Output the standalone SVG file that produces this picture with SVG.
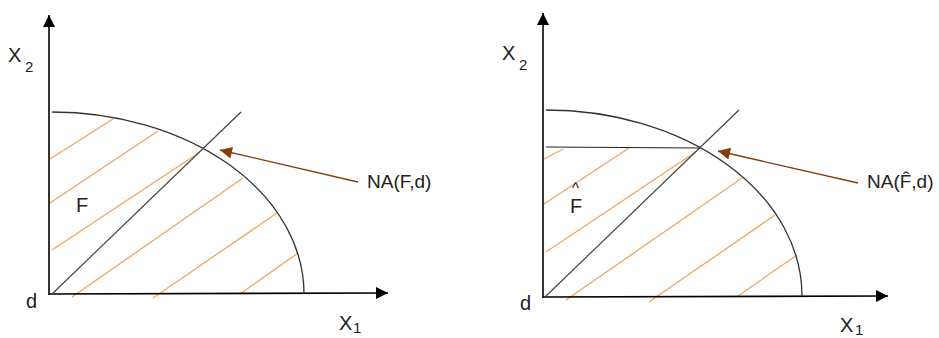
<svg xmlns="http://www.w3.org/2000/svg" width="939" height="338" viewBox="0 0 939 338">
<style>
.axis{stroke:#000;stroke-width:1.6;fill:none}
.curve{stroke:#333;stroke-width:1.3;fill:none}
.diag{stroke:#444;stroke-width:1.2;fill:none}
.hatch{stroke:#F4A460;stroke-width:1.3;fill:none}
.lead{stroke:#843C0C;stroke-width:1.3;fill:none}
text{font-family:"Liberation Sans",Arial,sans-serif;fill:#222}
.lbl{font-size:20px}
.sub{font-size:15px}
.na{font-size:19px}
</style>
<defs>
<marker id="ah" viewBox="0 0 10 10" refX="10" refY="5" markerWidth="13" markerHeight="12" markerUnits="userSpaceOnUse" orient="auto"><path d="M0,0 L10,5 L0,10 z" fill="#000"/></marker>
<marker id="bh" viewBox="0 0 10 10" refX="10" refY="5" markerWidth="13" markerHeight="12" markerUnits="userSpaceOnUse" orient="auto"><path d="M0,0 L10,5 L0,10 z" fill="#843C0C"/></marker>
</defs>

<g id="left-panel">
  <g id="left-hatch">
    <line class="hatch" x1="50" y1="159" x2="113" y2="119"/>
    <line class="hatch" x1="50" y1="203" x2="158" y2="131"/>
    <line class="hatch" x1="52" y1="250" x2="200" y2="152"/>
    <line class="hatch" x1="72" y1="297" x2="243" y2="178"/>
    <line class="hatch" x1="153" y1="298" x2="277" y2="213"/>
    <line class="hatch" x1="240" y1="294" x2="298" y2="253"/>
  </g>
  <g id="left-axes">
    <line class="axis" x1="49" y1="295" x2="49" y2="15" marker-end="url(#ah)"/>
    <line class="axis" x1="49" y1="294" x2="388" y2="293" marker-end="url(#ah)"/>
  </g>
  <path id="left-frontier" class="curve" d="M52,112 A252,182 0 0 1 304,294"/>
  <line id="left-diagonal" class="diag" x1="52" y1="294" x2="241" y2="112"/>
  <g id="left-labels">
    <text class="lbl" x="8" y="62">X</text>
    <text class="sub" x="25" y="72">2</text>
    <text class="lbl" x="26" y="308">d</text>
    <text class="lbl" x="339" y="330">X</text>
    <text class="sub" x="353" y="333">1</text>
    <text class="lbl" x="76" y="212">F</text>
  </g>
  <g id="left-na">
    <line class="lead" x1="358" y1="182" x2="220" y2="150" marker-end="url(#bh)"/>
    <text class="na" x="367" y="188">NA(F,d)</text>
  </g>
</g>

<g id="right-panel">
  <g id="right-hatch">
    <line class="hatch" x1="544" y1="159" x2="563" y2="149"/>
    <line class="hatch" x1="544" y1="204" x2="629" y2="148"/>
    <line class="hatch" x1="546" y1="252" x2="697" y2="151"/>
    <line class="hatch" x1="566" y1="300" x2="742" y2="178"/>
    <line class="hatch" x1="649" y1="302" x2="775" y2="215"/>
    <line class="hatch" x1="738" y1="296" x2="797" y2="255"/>
  </g>
  <g id="right-axes">
    <line class="axis" x1="543" y1="298" x2="543" y2="13" marker-end="url(#ah)"/>
    <line class="axis" x1="543" y1="297" x2="888" y2="296" marker-end="url(#ah)"/>
  </g>
  <path id="right-frontier" class="curve" d="M546,110 A256,186 0 0 1 802,296"/>
  <line id="right-diagonal" class="diag" x1="546" y1="296" x2="739" y2="110"/>
  <line id="right-cut" class="diag" x1="546" y1="147" x2="700" y2="148" style="stroke:#222"/>
  <g id="right-labels">
    <text class="lbl" x="502" y="60">X</text>
    <text class="sub" x="519" y="70">2</text>
    <text class="lbl" x="520" y="310">d</text>
    <text class="lbl" x="840" y="332">X</text>
    <text class="sub" x="855" y="335">1</text>
    <text class="lbl" x="570" y="213">F</text>
    <text class="sub" x="572" y="193">^</text>
  </g>
  <g id="right-na">
    <line class="lead" x1="858" y1="183" x2="718" y2="151" marker-end="url(#bh)"/>
    <text class="na" x="867" y="188">NA(F̂,d)</text>
  </g>
</g>
</svg>
